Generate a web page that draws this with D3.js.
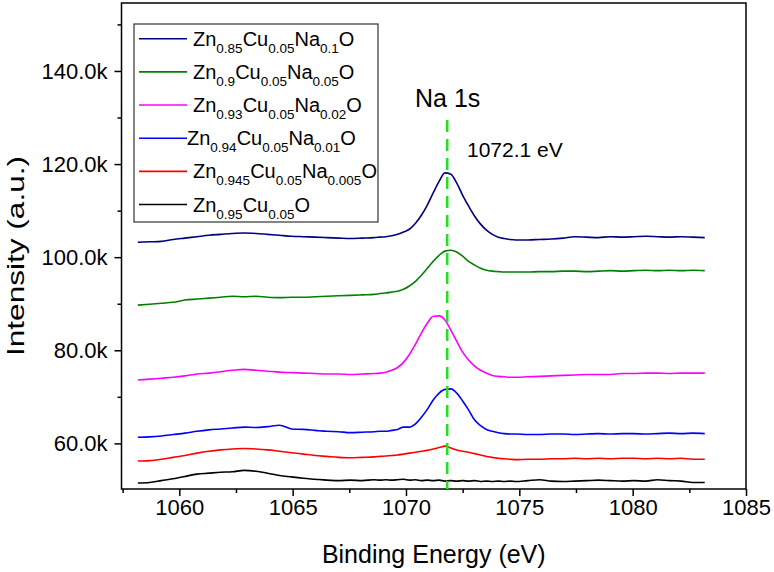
<!DOCTYPE html>
<html>
<head>
<meta charset="utf-8">
<script src="https://cdn.jsdelivr.net/npm/d3@7"></script>
<style>
	body { margin: 0; background: #fff; }
	svg text { font-family: "Liberation Sans", Arial, sans-serif; fill: #000; }
</style>
</head>
<body>
<svg id="chart" width="774" height="572"></svg>
<script>
// binding energy (eV) where the curves were read
var energy = [
	1058.17, 1058.69, 1059.21, 1059.73, 1060.25, 1060.78, 1061.30, 1061.82, 1062.34, 1062.86,
	1063.38, 1063.90, 1064.42, 1064.95, 1065.47, 1065.99, 1066.51, 1067.03, 1067.55, 1068.07,
	1068.59, 1068.85, 1069.11, 1069.37, 1069.63, 1069.89, 1070.15, 1070.42, 1070.68, 1070.94,
	1071.20, 1071.46, 1071.72, 1071.98, 1072.24, 1072.50, 1072.76, 1073.03, 1073.29, 1073.55,
	1073.81, 1074.07, 1074.33, 1074.59, 1074.85, 1075.37, 1075.89, 1076.41, 1076.93, 1077.45,
	1077.97, 1078.49, 1079.01, 1079.54, 1080.06, 1080.58, 1081.10, 1081.62, 1082.14, 1082.66,
	1083.18
];

// intensities in k counts
var na10 = [
	103.2, 103.3, 103.4, 103.8, 104.1, 104.4, 104.7, 104.9, 105.1, 105.2,
	105.1, 104.9, 104.7, 104.5, 104.4, 104.3, 104.2, 104.1, 104.0, 104.1,
	104.2, 104.3, 104.4, 104.6, 104.9, 105.4, 106.0, 107.3, 109.0, 111.2,
	113.8, 116.3, 118.1, 117.8, 115.9, 113.3, 111.0, 108.8, 107.1, 105.8,
	104.9, 104.3, 104.0, 103.8, 103.7, 103.7, 103.8, 103.9, 104.1, 104.4,
	104.3, 104.2, 104.4, 104.3, 104.4, 104.5, 104.4, 104.3, 104.4, 104.3,
	104.2
];
var na05 = [
	89.7, 89.9, 90.1, 90.3, 90.8, 91.0, 91.2, 91.4, 91.6, 91.5,
	91.6, 91.4, 91.3, 91.4, 91.4, 91.5, 91.6, 91.7, 91.8, 91.9,
	92.0, 92.2, 92.3, 92.5, 92.7, 93.1, 93.8, 94.8, 96.1, 97.6,
	99.1, 100.4, 101.3, 101.5, 101.1, 100.2, 99.1, 98.3, 97.6, 97.2,
	97.0, 96.9, 96.8, 96.8, 96.8, 96.8, 96.9, 96.9, 97.0, 97.0,
	96.9, 97.0, 97.1, 97.0, 97.1, 97.2, 97.1, 97.2, 97.1, 97.2,
	97.1
];
var na02 = [
	73.6, 73.8, 74.0, 74.2, 74.5, 74.9, 75.1, 75.4, 75.7, 75.9,
	75.7, 75.5, 75.3, 75.2, 75.1, 75.0, 74.9, 74.9, 74.8, 74.9,
	75.0, 75.1, 75.3, 75.7, 76.3, 77.4, 79.1, 81.3, 83.7, 85.8,
	87.3, 87.4, 86.5, 84.3, 81.9, 79.6, 77.9, 76.6, 75.7, 75.1,
	74.6, 74.4, 74.3, 74.2, 74.2, 74.3, 74.4, 74.5, 74.6, 74.7,
	74.8, 74.8, 74.8, 75.0, 75.0, 75.1, 75.1, 75.0, 75.1, 75.1,
	75.1
];
var na01 = [
	61.3, 61.4, 61.6, 61.9, 62.2, 62.6, 62.9, 63.1, 63.3, 63.5,
	63.4, 63.6, 63.9, 63.1, 63.0, 62.8, 62.6, 62.5, 62.3, 62.4,
	62.5, 62.6, 62.6, 62.8, 63.0, 63.5, 63.5, 64.2, 65.6, 67.3,
	69.3, 70.8, 71.6, 71.7, 70.8, 69.1, 67.2, 65.0, 63.8, 63.0,
	62.6, 62.3, 62.1, 62.0, 62.0, 61.9, 61.9, 62.0, 62.0, 61.9,
	62.0, 62.1, 62.0, 62.1, 62.1, 62.0, 62.1, 62.2, 62.1, 62.2,
	62.1
];
var na005 = [
	56.2, 56.3, 56.6, 57.0, 57.4, 57.9, 58.3, 58.6, 58.8, 58.9,
	58.8, 58.6, 58.3, 58.0, 57.7, 57.4, 57.2, 57.0, 56.9, 57.0,
	57.1, 57.2, 57.3, 57.4, 57.5, 57.7, 57.9, 58.1, 58.3, 58.5,
	58.8, 59.1, 59.4, 59.0, 58.6, 58.3, 58.1, 57.8, 57.5, 57.2,
	57.0, 56.8, 56.7, 56.6, 56.5, 56.6, 56.6, 56.7, 56.7, 56.8,
	56.7, 56.8, 56.7, 56.8, 56.8, 56.7, 56.8, 56.7, 56.8, 56.6,
	56.6
];
var na0 = [
	51.5, 51.6, 52.0, 52.4, 52.9, 53.4, 53.6, 53.8, 53.9, 54.2,
	54.0, 53.6, 53.1, 52.8, 52.5, 52.3, 52.1, 52.0, 52.1, 52.0,
	52.2, 52.1, 52.2, 52.1, 52.2, 52.3, 52.1, 52.2, 52.0, 52.1,
	52.0, 52.1, 51.9, 52.0, 51.9, 52.0, 51.9, 52.0, 51.8, 51.9,
	51.8, 51.9, 51.8, 51.9, 51.8, 52.0, 52.2, 51.9, 51.8, 51.9,
	52.0, 52.1, 52.0, 51.9, 52.0, 51.9, 52.2, 52.0, 51.9, 51.6,
	51.6
];

// legend order (top to bottom), formula split into [text, isSubscript]
var seriesNames = [
	[["Zn", 0], ["0.85", 1], ["Cu", 0], ["0.05", 1], ["Na", 0], ["0.1", 1], ["O", 0]],
	[["Zn", 0], ["0.9", 1], ["Cu", 0], ["0.05", 1], ["Na", 0], ["0.05", 1], ["O", 0]],
	[["Zn", 0], ["0.93", 1], ["Cu", 0], ["0.05", 1], ["Na", 0], ["0.02", 1], ["O", 0]],
	[["Zn", 0], ["0.94", 1], ["Cu", 0], ["0.05", 1], ["Na", 0], ["0.01", 1], ["O", 0]],
	[["Zn", 0], ["0.945", 1], ["Cu", 0], ["0.05", 1], ["Na", 0], ["0.005", 1], ["O", 0]],
	[["Zn", 0], ["0.95", 1], ["Cu", 0], ["0.05", 1], ["O", 0]]
];
var seriesValues = [na10, na05, na02, na01, na005, na0];
var seriesColours = ["#000080", "#008000", "#ff00ff", "#0000ff", "#ff0000", "#000000"];

var xTicks = [1060, 1065, 1070, 1075, 1080, 1085];
var yTicks = [60, 80, 100, 120, 140];
var peakPosition = 1071.82;

var XpsChart = {
	width: 774,
	height: 572,
	plot: { left: 121.5, right: 746, top: 3, bottom: 489 },

	render: function() {
		var self = this;
		var svg = d3.select("#chart");
		var p = self.plot;

		svg.append("rect")
			.attr("width", self.width)
			.attr("height", self.height)
			.style("fill", "#fff");

		var xScale = d3.scaleLinear()
			.domain([1057.45, 1085])
			.range([p.left, p.right]);
		var yScale = d3.scaleLinear()
			.domain([50.2, 154.6])
			.range([p.bottom, p.top]);

		// minor ticks first, majors drawn over them
		var xMinor = d3.axisBottom(xScale)
			.tickValues(d3.range(1057.5, 1085, 5))
			.tickSize(4)
			.tickFormat("");
		var yMinor = d3.axisLeft(yScale)
			.tickValues([70, 90, 110, 130, 150])
			.tickSize(4)
			.tickFormat("");
		var xAxis = d3.axisBottom(xScale)
			.tickValues(xTicks)
			.tickSize(7)
			.tickPadding(3)
			.tickFormat(d3.format("d"));
		var yAxis = d3.axisLeft(yScale)
			.tickValues(yTicks)
			.tickSize(7)
			.tickPadding(7)
			.tickFormat(function(d) { return d3.format(".1f")(d) + "k"; });

		[xMinor, xAxis].forEach(function(a) {
			svg.append("g")
				.attr("class", "axis x")
				.attr("transform", "translate(0," + p.bottom + ")")
				.call(a);
		});
		[yMinor, yAxis].forEach(function(a) {
			svg.append("g")
				.attr("class", "axis y")
				.attr("transform", "translate(" + p.left + ",0)")
				.call(a);
		});
		svg.selectAll(".axis .domain").remove();
		svg.selectAll(".axis line")
			.style("stroke", "#000")
			.style("stroke-width", 1.5);
		svg.selectAll(".axis text")
			.style("font-size", "22px")
			.style("font-family", "'Liberation Sans', Arial, sans-serif")
			.style("fill", "#000");

		// frame
		svg.append("rect")
			.attr("x", p.left)
			.attr("y", p.top)
			.attr("width", p.right - p.left)
			.attr("height", p.bottom - p.top)
			.style("fill", "none")
			.style("stroke", "#000")
			.style("stroke-width", 1.5);

		// spectra
		var line = d3.line()
			.x(function(d, i) { return xScale(energy[i]); })
			.y(function(d) { return yScale(d); })
			.curve(d3.curveMonotoneX);

		seriesValues.forEach(function(values, i) {
			svg.append("path")
				.datum(values)
				.attr("d", line)
				.style("fill", "none")
				.style("stroke", seriesColours[i])
				.style("stroke-width", 1.6);
		});

		// Na 1s marker
		svg.append("line")
			.attr("x1", xScale(peakPosition))
			.attr("x2", xScale(peakPosition))
			.attr("y1", 120)
			.attr("y2", p.bottom)
			.style("stroke", "#22e022")
			.style("stroke-width", 2.5)
			.style("stroke-dasharray", "12,7");
		svg.append("text")
			.attr("x", 415)
			.attr("y", 107)
			.style("font-size", "25px")
			.text("Na 1s");
		svg.append("text")
			.attr("x", 467)
			.attr("y", 157)
			.style("font-size", "21px")
			.text("1072.1 eV");

		// axis titles
		svg.append("text")
			.attr("x", (p.left + p.right) / 2)
			.attr("y", 563)
			.style("font-size", "25px")
			.style("text-anchor", "middle")
			.text("Binding Energy (eV)");
		svg.append("text")
			.attr("transform", "translate(24,256) rotate(-90)")
			.attr("textLength", 200)
			.attr("lengthAdjust", "spacingAndGlyphs")
			.style("font-size", "24px")
			.style("text-anchor", "middle")
			.text("Intensity (a.u.)");

		self.renderLegend(svg);
	},

	renderLegend: function(svg) {
		var legend = svg.append("g").attr("class", "legend");
		legend.append("rect")
			.attr("x", 134)
			.attr("y", 24)
			.attr("width", 244)
			.attr("height", 198)
			.style("fill", "#fff")
			.style("stroke", "#333")
			.style("stroke-width", 1.2);

		var rowY = d3.scaleLinear().domain([0, 5]).range([38.7, 204.5]);

		seriesNames.forEach(function(parts, i) {
			var y = rowY(i);
			legend.append("line")
				.attr("x1", 139)
				.attr("x2", 187)
				.attr("y1", y)
				.attr("y2", y)
				.style("stroke", seriesColours[i])
				.style("stroke-width", 1.6);

			var text = legend.append("text")
				.attr("x", i == 3 ? 187 : 193)
				.attr("y", y + 7)
				.style("font-size", "20px");
			var shifted = false;
			parts.forEach(function(part) {
				var t = text.append("tspan").text(part[0]);
				if (part[1]) {
					t.attr("dy", 7).style("font-size", "13.5px");
					shifted = true;
				} else if (shifted) {
					t.attr("dy", -7);
					shifted = false;
				}
			});
		});
	}
};

XpsChart.render();
</script>
</body>
</html>
